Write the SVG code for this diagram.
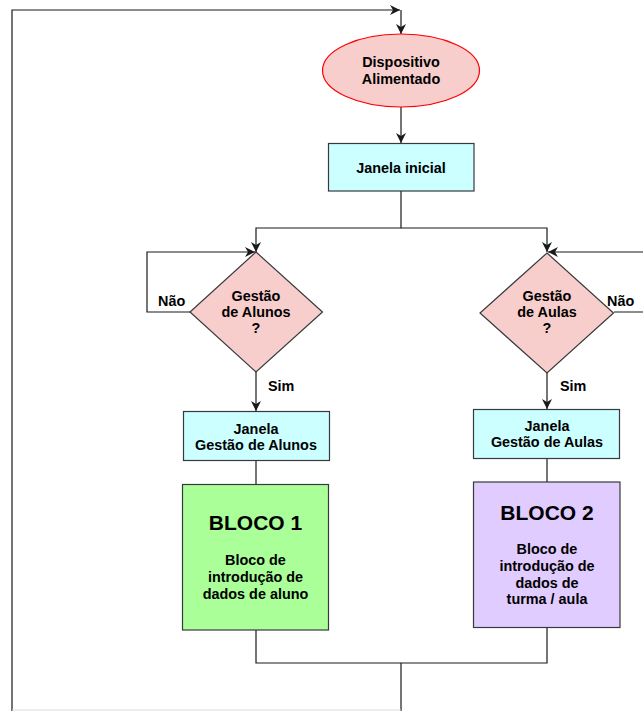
<svg xmlns="http://www.w3.org/2000/svg" width="643" height="711" viewBox="0 0 643 711">
  <style>
    .t { font-family: "Liberation Sans", Arial, sans-serif; font-weight: bold; font-size: 14.4px; fill: #000; text-anchor: middle; }
    .big { font-size: 21px; }
    .lbl { text-anchor: start; }
    .edge { fill: none; stroke: #1a1a1a; stroke-width: 1.2; }
    .box { fill: #ccffff; stroke: #36393d; stroke-width: 1.2; }
    .dec { fill: #f8cecc; stroke: #36393d; stroke-width: 1.2; }
  </style>
  <defs>
    <marker id="arr" viewBox="0 0 10 10" refX="10" refY="5" markerWidth="10" markerHeight="10" markerUnits="userSpaceOnUse" orient="auto">
      <path d="M0,0 L10,5 L0,10 L3,5 z" fill="#1a1a1a"/>
    </marker>
  </defs>
  <rect width="643" height="711" fill="#ffffff"/>

  <!-- connectors -->
  <g id="connectors">
    <!-- return loop to start -->
    <path class="edge" d="M401,663 V711" />
    <path class="edge" d="M12,711 V10 H400" marker-end="url(#arr)"/>
    <line x1="12" y1="710" x2="401" y2="710" stroke="#d9d9d9" stroke-width="1"/>
    <path class="edge" d="M401,10 V34" marker-end="url(#arr)"/>
    <!-- start to initial window -->
    <path class="edge" d="M401,107 V143" marker-end="url(#arr)"/>
    <!-- split to both decisions -->
    <path class="edge" d="M401,191 V228 H256 V252" marker-end="url(#arr)"/>
    <path class="edge" d="M401,228 H547 V252" marker-end="url(#arr)"/>
    <!-- "Não" loops -->
    <path class="edge" d="M190,312 H147 V252 H255" marker-end="url(#arr)"/>
    <path class="edge" d="M614,312 H645 V252 H548" marker-end="url(#arr)"/>
    <!-- "Sim" branches -->
    <path class="edge" d="M256,372 V411" marker-end="url(#arr)"/>
    <path class="edge" d="M547,373 V409" marker-end="url(#arr)"/>
    <!-- windows to blocks -->
    <path class="edge" d="M256,461 V484"/>
    <path class="edge" d="M547,458 V482"/>
    <!-- merge -->
    <path class="edge" d="M256,630 V663 H547 V627"/>
    <!-- labels -->
    <text class="t lbl" x="158" y="306">Não</text>
    <text class="t lbl" x="607" y="306">Não</text>
    <text class="t lbl" x="268" y="391">Sim</text>
    <text class="t lbl" x="560" y="391">Sim</text>
  </g>

  <g id="start">
    <ellipse cx="401" cy="70.5" rx="78.5" ry="36.5" fill="#f8cecc" stroke="#ff0000" stroke-width="1.2"/>
    <text class="t" x="401" y="67">Dispositivo</text>
    <text class="t" x="401" y="84">Alimentado</text>
  </g>

  <g id="janela-inicial">
    <rect class="box" x="328.5" y="143.5" width="145.5" height="47.5"/>
    <text class="t" x="401" y="173">Janela inicial</text>
  </g>

  <g id="dec-alunos">
    <polygon class="dec" points="256,252 322.5,312 256,372 190,312"/>
    <text class="t" x="256" y="301">Gestão</text>
    <text class="t" x="256" y="317">de Alunos</text>
    <text class="t" x="256" y="333">?</text>
  </g>

  <g id="dec-aulas">
    <polygon class="dec" points="547,253 613.5,313 547,373 480,313"/>
    <text class="t" x="547" y="301">Gestão</text>
    <text class="t" x="547" y="317">de Aulas</text>
    <text class="t" x="547" y="333">?</text>
  </g>

  <g id="janela-alunos">
    <rect class="box" x="183.5" y="411.5" width="146" height="49"/>
    <text class="t" x="256" y="434">Janela</text>
    <text class="t" x="256" y="450">Gestão de Alunos</text>
  </g>

  <g id="janela-aulas">
    <rect class="box" x="473.5" y="409.5" width="146" height="49"/>
    <text class="t" x="547" y="431">Janela</text>
    <text class="t" x="547" y="447">Gestão de Aulas</text>
  </g>

  <g id="bloco1">
    <rect x="182.5" y="484.5" width="146" height="145.5" fill="#aaff99" stroke="#36393d" stroke-width="1.2"/>
    <text class="t big" x="255.5" y="530">BLOCO 1</text>
    <text class="t" x="255.5" y="565">Bloco de</text>
    <text class="t" x="255.5" y="582">introdução de</text>
    <text class="t" x="255.5" y="598.5">dados de aluno</text>
  </g>

  <g id="bloco2">
    <rect x="473.5" y="482" width="146.5" height="145.5" fill="#e1ccff" stroke="#36393d" stroke-width="1.2"/>
    <text class="t big" x="547" y="519.5">BLOCO 2</text>
    <text class="t" x="547" y="554">Bloco de</text>
    <text class="t" x="547" y="571">introdução de</text>
    <text class="t" x="547" y="587.5">dados de</text>
    <text class="t" x="547" y="604">turma / aula</text>
  </g>
</svg>
